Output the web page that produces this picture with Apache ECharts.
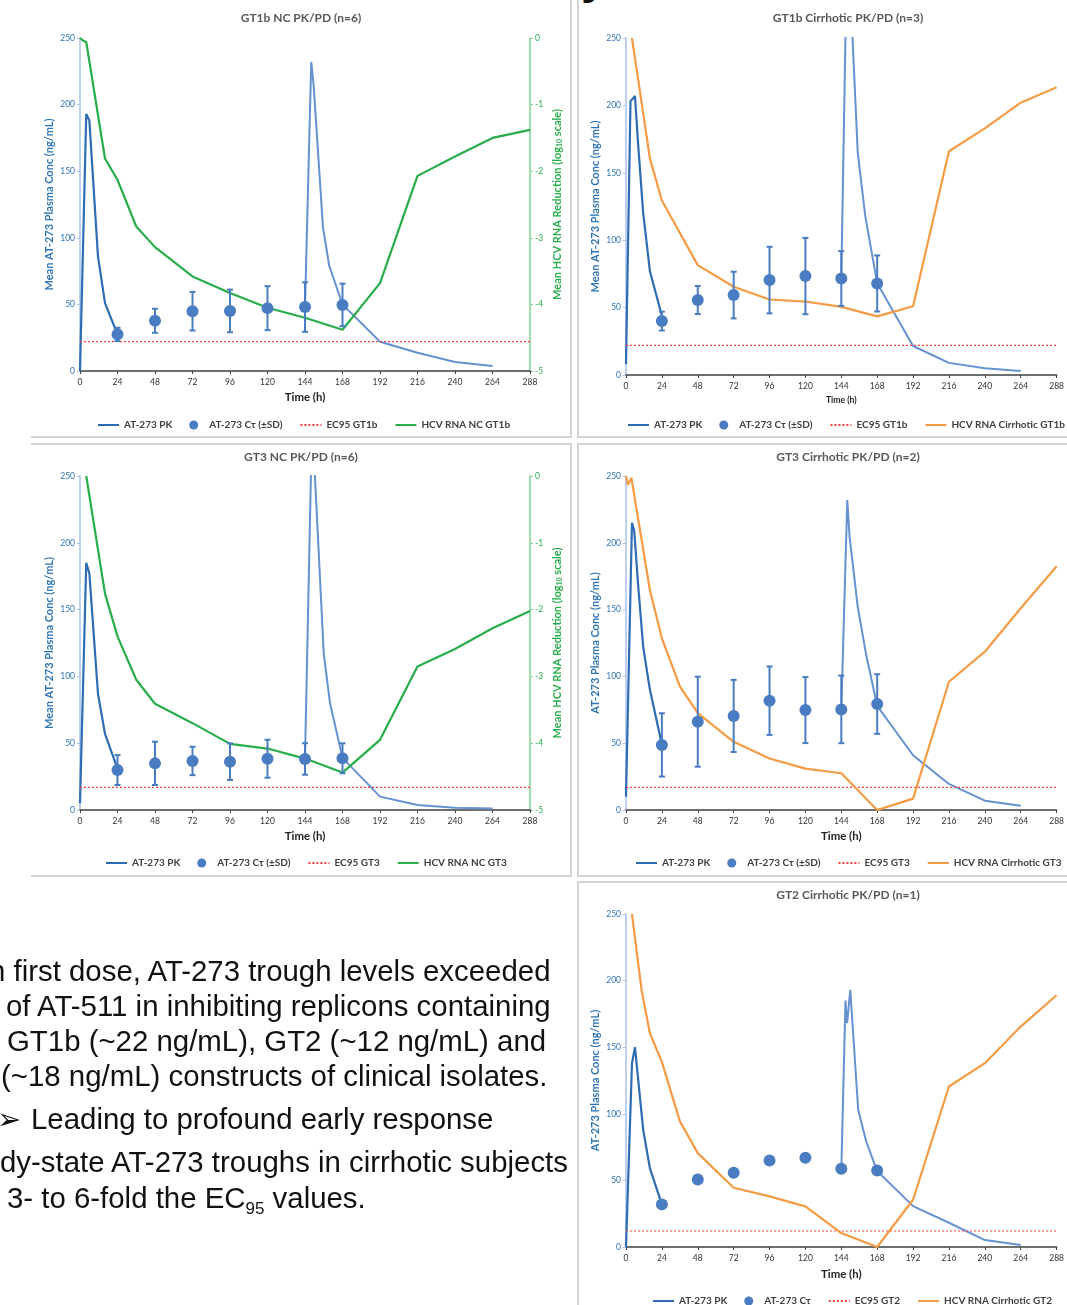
<!DOCTYPE html>
<html>
<head>
<meta charset="utf-8">
<script src="https://cdn.jsdelivr.net/npm/echarts@6/dist/echarts.min.js"></script>
<style>
html, body { margin: 0; padding: 0; background: #fff; }
body { width: 1067px; height: 1305px; overflow: hidden; position: relative; }
#chart { position: absolute; left: 0; top: 0; width: 1067px; height: 1305px; }
.frame { position: absolute; box-sizing: border-box; border: 0 solid #d4d4d4; }
.note { position: absolute; font-family: "Liberation Sans", Arial, sans-serif; font-size: 29.4px; color: #111; white-space: nowrap; line-height: 35px; }
.note sub { font-size: 17px; vertical-align: -6px; line-height: 0; }
</style>
</head>
<body>
<div class="frame" style="left:31px;top:-10px;width:541px;height:448px;border-right-width:2px;border-bottom-width:2px"></div>
<div class="frame" style="left:577px;top:-10px;width:500px;height:448px;border-left-width:2px;border-bottom-width:2px"></div>
<div class="frame" style="left:31px;top:443px;width:541px;height:434px;border-top-width:2px;border-right-width:2px;border-bottom-width:2px"></div>
<div class="frame" style="left:577px;top:443px;width:500px;height:434px;border-top-width:2px;border-left-width:2px;border-bottom-width:2px"></div>
<div class="frame" style="left:577px;top:881px;width:500px;height:440px;border-top-width:2px;border-left-width:2px"></div>

<div class="note" style="left:581px;top:-47px;font-size:48px;line-height:48px;font-weight:bold">y</div>

<div id="chart"></div>

<div class="note" style="left:-11px;top:953px">n first dose, AT-273 trough levels exceeded</div>
<div class="note" style="left:6px;top:988px">of AT-511 in inhibiting replicons containing</div>
<div class="note" style="left:7px;top:1023px">GT1b (~22 ng/mL), GT2 (~12 ng/mL) and</div>
<div class="note" style="left:1px;top:1058px">(~18 ng/mL) constructs of clinical isolates.</div>
<div class="note" style="left:-3px;top:1101px">&#10146;</div>
<div class="note" style="left:31px;top:1101px">Leading to profound early response</div>
<div class="note" style="left:0px;top:1144px">dy-state AT-273 troughs in cirrhotic subjects</div>
<div class="note" style="left:7px;top:1180px">3- to 6-fold the EC<sub>95</sub> values.</div>

<script>
// trough sampling times (h)
const ctHours = [24, 48, 72, 96, 120, 144, 168];

// EC95 (ng/mL)
const ec95Gt1b = 22;
const ec95Gt3 = 17;
const ec95Gt2 = 12;

// GT1b NC PK/PD (n=6)
const gt1bNcPk = [[0, 0], [4, 193], [6, 188], [11.5, 86], [16, 51], [24, 27.5]];
const gt1bNcPkD7 = [[144, 48], [148, 232], [149.5, 215], [155.5, 108], [159.5, 79], [168, 50], [192, 22], [216, 13.7], [240, 6.7], [264, 3.7]];
const gt1bNcCt = [27.5, 37.7, 44.9, 45.1, 47.2, 48.0, 49.6];
const gt1bNcSd = [5, 9, 14.5, 16, 16.5, 18.6, 16];
const gt1bNcRna = [[0, 0], [2, -0.04], [4, -0.06], [16, -1.81], [24, -2.13], [36, -2.83], [48, -3.14], [72, -3.58], [96, -3.83], [120, -4.05], [144, -4.2], [168, -4.38], [192, -3.68], [216, -2.07], [240, -1.78], [264, -1.5], [288, -1.38]];

// GT1b Cirrhotic PK/PD (n=3)
const gt1bCirPk = [[0, 8], [3, 203], [6, 207], [8, 173], [11.5, 120], [16, 77], [24, 44]];
const gt1bCirPkD7 = [[144, 72], [148, 330], [151, 262], [155, 165], [160, 118], [168, 68], [192, 21.5], [216, 9], [240, 5], [264, 3]];
const gt1bCirCt = [40, 55.6, 59.3, 70.4, 73.4, 71.6, 67.9];
const gt1bCirSd = [7, 10.4, 17.3, 24.7, 28.3, 20.3, 20.8];
const gt1bCirRna = [[4, 0], [16, -1.79], [24, -2.41], [48, -3.37], [72, -3.69], [96, -3.88], [120, -3.91], [144, -3.99], [168, -4.13], [192, -3.98], [216, -1.68], [240, -1.34], [264, -0.96], [288, -0.73]];

// GT3 NC PK/PD (n=6)
const gt3NcPk = [[0, 5], [4, 185], [6, 177], [11.5, 87], [16, 57], [24, 31]];
const gt3NcPkD7 = [[144, 39], [148, 262], [150, 258], [156, 117], [160, 80], [168, 39], [192, 10], [216, 3.7], [240, 1.7], [264, 1.2]];
const gt3NcCt = [29.9, 34.9, 36.7, 36.2, 38.4, 38.2, 38.7];
const gt3NcSd = [11.2, 16.2, 10.6, 13.7, 14.2, 11.8, 11.2];
const gt3NcRna = [[4, 0], [16, -1.76], [24, -2.4], [36, -3.05], [48, -3.41], [72, -3.7], [96, -4.01], [120, -4.08], [144, -4.23], [168, -4.44], [192, -3.95], [216, -2.85], [240, -2.59], [264, -2.28], [288, -2.02]];

// GT3 Cirrhotic PK/PD (n=2)
const gt3CirPk = [[0, 10], [4, 215], [5.5, 209], [8, 170], [11.5, 122], [16, 90], [24, 49]];
const gt3CirPkD7 = [[144, 75], [148, 232], [149.5, 205], [155, 152], [160.5, 117], [168, 78], [192, 41], [216, 19.5], [240, 7], [264, 3.2]];
const gt3CirCt = [48.7, 66.1, 70.4, 81.8, 74.8, 75.3, 79.3];
const gt3CirSd = [23.7, 33.7, 27, 25.6, 24.7, 25.3, 22.3];
const gt3CirRna = [[0, 0], [1.3, -0.13], [3.6, -0.03], [16, -1.71], [24, -2.43], [36, -3.15], [48, -3.55], [72, -3.98], [96, -4.23], [120, -4.38], [144, -4.45], [168, -5], [192, -4.83], [216, -3.08], [240, -2.63], [264, -1.98], [288, -1.35]];

// GT2 Cirrhotic PK/PD (n=1)
const gt2CirPk = [[0, 0], [1, 0], [4, 138], [6, 150], [11.5, 88], [16, 59], [24, 32]];
const gt2CirPkD7 = [[144, 58], [146.8, 185], [147.9, 168], [150, 193], [155.3, 103], [160.7, 79], [168, 57], [192, 30.7], [216, 18.2], [240, 5.2], [264, 1.5]];
const gt2CirCt = [32, 50.7, 55.7, 65, 67, 58.7, 57.4];
const gt2CirRna = [[4, 0], [10.4, -1.14], [16, -1.79], [24, -2.22], [36, -3.11], [48, -3.59], [72, -4.11], [96, -4.24], [120, -4.39], [144, -4.79], [168, -5], [192, -4.29], [216, -2.59], [240, -2.24], [264, -1.69], [288, -1.22]];

const font = 'Lato, "Open Sans", sans-serif';
const pkBlue = '#2e6db4', pkBlue2 = '#6592d0', dotBlue = '#4a7cc2', ecRed = '#ff4040';
const green = '#27ae4a', orange = '#f59b45', axisBlue = '#2e75b6';

const grids = [], xAxes = [], yAxes = [], series = [], titles = [], legends = [];

function errorBar(params, api) {
  const x = api.value(0);
  const top = api.coord([x, api.value(2)]);
  const bot = api.coord([x, api.value(1)]);
  const st = { stroke: dotBlue, lineWidth: 2 };
  return {
    type: 'group',
    children: [
      { type: 'line', shape: { x1: top[0], y1: top[1], x2: bot[0], y2: bot[1] }, style: st },
      { type: 'line', shape: { x1: top[0] - 3, y1: top[1], x2: top[0] + 3, y2: top[1] }, style: st },
      { type: 'line', shape: { x1: bot[0] - 3, y1: bot[1], x2: bot[0] + 3, y2: bot[1] }, style: st }
    ]
  };
}

function addPanel(p) {
  const gi = grids.length;
  grids.push({ left: p.left, top: p.top, width: p.width, height: p.height });
  titles.push({
    text: p.title, left: p.titleX, top: p.titleTop, textAlign: 'center', padding: 0,
    textStyle: { fontFamily: font, fontSize: 12, fontWeight: 'bold', color: '#595959' }
  });
  xAxes.push({
    gridIndex: gi, type: 'value', min: 0, max: 288, interval: 24,
    name: 'Time (h)', nameLocation: 'middle', nameGap: p.xNameGap,
    nameTextStyle: { fontFamily: font, fontSize: p.xNameSize, fontWeight: 'bold', color: '#222' },
    axisLine: { lineStyle: { color: '#404040', width: 1.5 } },
    axisTick: { length: 3, lineStyle: { color: '#404040' } },
    axisLabel: { fontFamily: font, fontSize: 8.5, color: '#333', margin: 7, showMaxLabel: true },
    splitLine: { show: false }
  });
  const yi = yAxes.length;
  yAxes.push({
    gridIndex: gi, type: 'value', min: 0, max: 250, interval: 50, position: 'left',
    name: p.yName, nameLocation: 'middle', nameGap: 25, nameRotate: 90,
    nameTextStyle: { fontFamily: font, fontSize: 11, fontWeight: 'bold', color: axisBlue },
    axisLine: { show: true, lineStyle: { color: '#a9c1e6', width: 1.5 } },
    axisTick: { show: true, length: 3, lineStyle: { color: '#a9c1e6' } },
    axisLabel: { fontFamily: font, fontSize: 8.5, color: axisBlue, margin: 5 },
    splitLine: { show: false }
  });
  yAxes.push({
    gridIndex: gi, type: 'value', min: -5, max: 0, interval: 1, position: 'right', show: p.showRight,
    name: 'Mean HCV RNA Reduction (log{sub|10} scale)', nameLocation: 'middle', nameGap: 22, nameRotate: 90,
    nameTextStyle: {
      fontFamily: font, fontSize: 11, fontWeight: 'bold', color: green,
      rich: { sub: { fontFamily: font, fontSize: 7, fontWeight: 'bold', color: green, verticalAlign: 'bottom', lineHeight: 10 } }
    },
    axisLine: { show: true, lineStyle: { color: '#7fd194', width: 1.5 } },
    axisTick: { show: true, length: 3, lineStyle: { color: '#7fd194' } },
    axisLabel: { fontFamily: font, fontSize: 8.5, color: green, margin: 5 },
    splitLine: { show: false }
  });

  series.push({
    name: 'AT-273 PK', type: 'line', xAxisIndex: gi, yAxisIndex: yi, data: p.pk,
    symbol: 'none', lineStyle: { color: pkBlue, width: 2.2 }, itemStyle: { color: pkBlue }
  });
  series.push({
    name: 'AT-273 PK day 7', type: 'line', xAxisIndex: gi, yAxisIndex: yi, data: p.pkD7,
    symbol: 'none', lineStyle: { color: pkBlue2, width: 2 }, itemStyle: { color: pkBlue2 }
  });
  series.push({
    name: p.ecName, type: 'line', xAxisIndex: gi, yAxisIndex: yi, data: [[0, p.ec95], [288, p.ec95]],
    symbol: 'none', lineStyle: { color: ecRed, width: 1.2, type: [2, 2] }, itemStyle: { color: ecRed }
  });
  series.push({
    name: p.rnaName, type: 'line', xAxisIndex: gi, yAxisIndex: yi + 1, data: p.rna,
    symbol: 'none', lineStyle: { color: p.rnaColor, width: 2.2 }, itemStyle: { color: p.rnaColor }
  });
  if (p.sd) {
    series.push({
      name: 'SD', type: 'custom', xAxisIndex: gi, yAxisIndex: yi, renderItem: errorBar, z: 4,
      data: ctHours.map((h, i) => [h, p.ct[i] - p.sd[i], p.ct[i] + p.sd[i]])
    });
  }
  series.push({
    name: p.ctName, type: 'scatter', xAxisIndex: gi, yAxisIndex: yi, z: 5,
    data: ctHours.map((h, i) => [h, p.ct[i]]), symbolSize: 12, itemStyle: { color: dotBlue, opacity: 1 }
  });

  const noSym = { opacity: 0 };
  legends.push({
    left: p.legendLeft, top: p.legendTop, width: 700, selectedMode: false, padding: 0,
    itemWidth: 21, itemHeight: 9, itemGap: 17,
    data: [
      { name: 'AT-273 PK', itemStyle: noSym },
      { name: p.ctName },
      { name: p.ecName, itemStyle: noSym },
      { name: p.rnaName, itemStyle: noSym }
    ],
    textStyle: { fontFamily: font, fontSize: 10, fontWeight: 'bold', color: '#404040' }
  });
}

addPanel({
  left: 80, top: 38, width: 450, height: 333, title: 'GT1b NC PK/PD (n=6)', titleX: 301, titleTop: 12,
  yName: 'Mean AT-273 Plasma Conc (ng/mL)', showRight: true, xNameSize: 11.4, xNameGap: 21,
  pk: gt1bNcPk, pkD7: gt1bNcPkD7, ct: gt1bNcCt, sd: gt1bNcSd, ctName: 'AT-273 C\u03c4 (\u00b1SD)',
  ec95: ec95Gt1b, ecName: 'EC95 GT1b', rna: gt1bNcRna, rnaName: 'HCV RNA NC GT1b', rnaColor: green,
  legendLeft: 97, legendTop: 420
});
addPanel({
  left: 626, top: 38, width: 449.5, height: 337, title: 'GT1b Cirrhotic PK/PD (n=3)', titleX: 848, titleTop: 12,
  yName: 'Mean AT-273 Plasma Conc (ng/mL)', showRight: false, xNameSize: 8.6, xNameGap: 21,
  pk: gt1bCirPk, pkD7: gt1bCirPkD7, ct: gt1bCirCt, sd: gt1bCirSd, ctName: 'AT-273 C\u03c4 (\u00b1SD)',
  ec95: ec95Gt1b, ecName: 'EC95 GT1b', rna: gt1bCirRna, rnaName: 'HCV RNA Cirrhotic GT1b', rnaColor: orange,
  legendLeft: 627, legendTop: 420
});
addPanel({
  left: 80, top: 476, width: 450, height: 334, title: 'GT3 NC PK/PD (n=6)', titleX: 301, titleTop: 451,
  yName: 'Mean AT-273 Plasma Conc (ng/mL)', showRight: true, xNameSize: 11.4, xNameGap: 21,
  pk: gt3NcPk, pkD7: gt3NcPkD7, ct: gt3NcCt, sd: gt3NcSd, ctName: 'AT-273 C\u03c4 (\u00b1SD)',
  ec95: ec95Gt3, ecName: 'EC95 GT3', rna: gt3NcRna, rnaName: 'HCV RNA NC GT3', rnaColor: green,
  legendLeft: 105, legendTop: 858
});
addPanel({
  left: 626, top: 476, width: 449.5, height: 334, title: 'GT3 Cirrhotic PK/PD (n=2)', titleX: 848, titleTop: 451,
  yName: 'AT-273 Plasma Conc (ng/mL)', showRight: false, xNameSize: 11.4, xNameGap: 21,
  pk: gt3CirPk, pkD7: gt3CirPkD7, ct: gt3CirCt, sd: gt3CirSd, ctName: 'AT-273 C\u03c4 (\u00b1SD)',
  ec95: ec95Gt3, ecName: 'EC95 GT3', rna: gt3CirRna, rnaName: 'HCV RNA Cirrhotic GT3', rnaColor: orange,
  legendLeft: 635, legendTop: 858
});
addPanel({
  left: 626, top: 914, width: 449.5, height: 333, title: 'GT2 Cirrhotic PK/PD (n=1)', titleX: 848, titleTop: 889,
  yName: 'AT-273 Plasma Conc (ng/mL)', showRight: false, xNameSize: 11.4, xNameGap: 22,
  pk: gt2CirPk, pkD7: gt2CirPkD7, ct: gt2CirCt, sd: null, ctName: 'AT-273 C\u03c4',
  ec95: ec95Gt2, ecName: 'EC95 GT2', rna: gt2CirRna, rnaName: 'HCV RNA Cirrhotic GT2', rnaColor: orange,
  legendLeft: 652, legendTop: 1296
});

const chart = echarts.init(document.getElementById('chart'));
chart.setOption({
  animation: false,
  title: titles,
  grid: grids,
  xAxis: xAxes,
  yAxis: yAxes,
  legend: legends,
  series: series
});
</script>
</body>
</html>
